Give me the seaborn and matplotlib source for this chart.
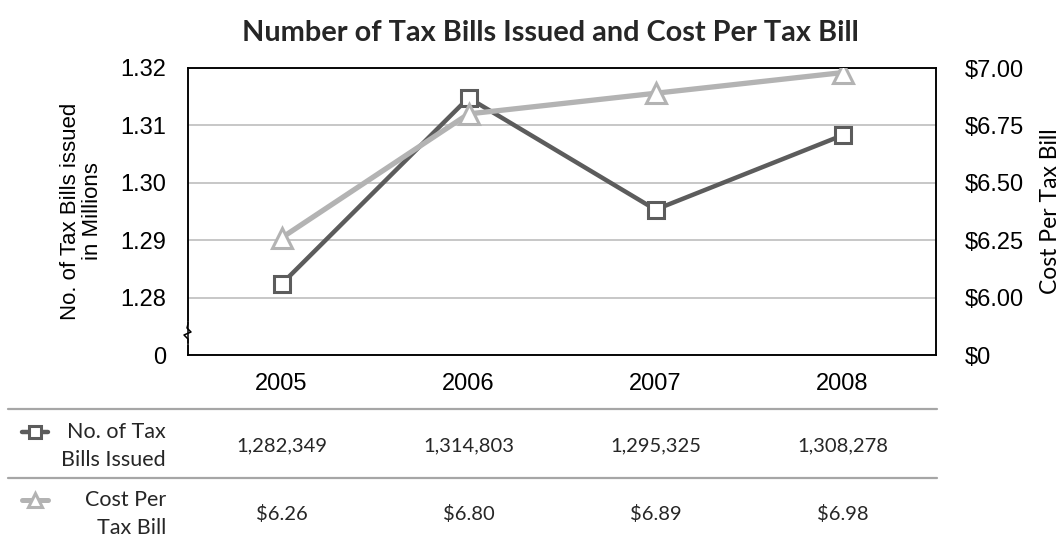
import numpy as np
import pandas as pd
import matplotlib
matplotlib.use("Agg")
import matplotlib.pyplot as plt
from matplotlib.lines import Line2D
from matplotlib.transforms import blended_transform_factory
import seaborn as sns

# ---- data -------------------------------------------------------------
years = ["2005", "2006", "2007", "2008"]
bills_issued = [1282349, 1314803, 1295325, 1308278]
cost_per_bill = [6.26, 6.80, 6.89, 6.98]
bills_ticks = [0, 1.28, 1.29, 1.30, 1.31, 1.32]
bills_ticklabels = ["0", "1.28", "1.29", "1.30", "1.31", "1.32"]
cost_ticks = [0, 6.00, 6.25, 6.50, 6.75, 7.00]
cost_ticklabels = ["$0", "$6.00", "$6.25", "$6.50", "$6.75", "$7.00"]
row_labels = ["No. of Tax\nBills Issued", "Cost Per\nTax Bill"]

DARK = "#5c5c5c"
LIGHT = "#b3b3b3"
GRID = "#bdbdbd"

sns.set_theme(style="white")
plt.rcParams["font.family"] = ["Liberation Sans", "DejaVu Sans"]
HUMANIST = ["Lato", "Liberation Sans", "DejaVu Sans"]

df = pd.DataFrame({
    "pos": np.arange(len(years)),
    "bills_m": np.array(bills_issued) / 1e6,
    "cost": cost_per_bill,
})


def broken_scale(low, step):
    """Axis with a break: 0..low squeezed into one step, then linear."""
    def fwd(v):
        v = np.asarray(v, dtype=float)
        return np.where(v >= low, 1 + (v - low) / step, v / low)

    def inv(u):
        u = np.asarray(u, dtype=float)
        return np.where(u >= 1, low + (u - 1) * step, u * low)
    return fwd, inv


W, H = 1062, 542
fig = plt.figure(figsize=(W / 100, H / 100), dpi=100)
ax = fig.add_axes([188 / W, 1 - 355 / H, 748 / W, 287 / H])
ax2 = ax.twinx()

ax.set_yscale("function", functions=broken_scale(1.28, 0.01))
ax2.set_yscale("function", functions=broken_scale(6.0, 0.25))

sns.lineplot(data=df, x="pos", y="bills_m", ax=ax, color=DARK, lw=3.2,
             marker="s", markersize=12, markerfacecolor="white",
             markeredgecolor=DARK, markeredgewidth=2.2, zorder=3)
sns.lineplot(data=df, x="pos", y="cost", ax=ax2, color=LIGHT, lw=3.8,
             marker="^", markersize=14, markerfacecolor="white",
             markeredgecolor=LIGHT, markeredgewidth=2.2, zorder=3)

ax.set_xlim(-0.5, len(years) - 0.5)
ax.set_ylim(0, 1.32)
ax2.set_ylim(0, 7.0)

ax.set_xticks(df["pos"], years)
ax.set_yticks(bills_ticks, bills_ticklabels)
ax2.set_yticks(cost_ticks, cost_ticklabels)

ax.grid(axis="y", color=GRID, lw=1.2)
ax.grid(axis="x", visible=False)
ax2.grid(False)
ax.tick_params(axis="both", length=0, labelsize=17, colors="black")
ax.tick_params(axis="y", pad=16)
ax.tick_params(axis="x", pad=13)
ax2.tick_params(axis="y", length=0, labelsize=17, colors="black", pad=21)

for a in (ax, ax2):
    for sp in a.spines.values():
        sp.set_visible(True)
        sp.set_color("black")
        sp.set_linewidth(1.1)

ax.set_xlabel("")
ax.set_ylabel("No. of Tax Bills issued\nin Millions", fontsize=16,
              labelpad=12, color="black", linespacing=1.1)
ax2.set_ylabel("Cost Per Tax Bill", fontsize=16.5, labelpad=11,
               color="black", family=HUMANIST)

# break marker on the left spine
px, py = 1 / 748, 1 / 287
ax.plot([0, 0], [12 * py, 32 * py], transform=ax.transAxes, color="white",
        lw=3, clip_on=False, zorder=5)
ax.plot([0, 0, -4 * px, 3 * px, -1 * px, 0, 0],
        [12 * py, 16 * py, 20 * py, 23 * py, 27 * py, 31 * py, 33 * py],
        transform=ax.transAxes, color="black", lw=1.1, clip_on=False,
        zorder=6)

fig.suptitle("Number of Tax Bills Issued and Cost Per Tax Bill",
             x=550 / W, y=1 - 33 / H, va="center", fontsize=20.8,
             fontweight="bold", family=HUMANIST)

# ---- data table below the chart ---------------------------------------
for yline in (409, 478):
    fig.add_artist(Line2D([8 / W, 937 / W], [1 - yline / H] * 2,
                          color="#a6a6a6", lw=1.6))

tr = blended_transform_factory(ax.transData, fig.transFigure)
row_y = [1 - 446 / H, 1 - 514 / H]
row_values = [[f"{v:,}" for v in bills_issued],
              [f"${v:.2f}" for v in cost_per_bill]]
for yy, vals in zip(row_y, row_values):
    for i, txt in enumerate(vals):
        fig.text(i, yy, txt, transform=tr, ha="center", va="center",
                 fontsize=14.5, family=HUMANIST)

for yy, lab in zip(row_y, row_labels):
    fig.text(166 / W, yy, lab, ha="right", va="center", fontsize=15.5,
             family=HUMANIST, linespacing=1.45)

key_y = [1 - 432 / H, 1 - 500 / H]
key_styles = [dict(color=DARK, marker="s", markersize=9, lw=3.2,
                   markeredgewidth=2.2, markeredgecolor=DARK),
              dict(color=LIGHT, marker="^", markersize=10, lw=3.6,
                   markeredgewidth=2.2, markeredgecolor=LIGHT)]
for yy, st in zip(key_y, key_styles):
    fig.add_artist(Line2D([22 / W, 35 / W, 48 / W], [yy] * 3,
                          markevery=[1], markerfacecolor="white", **st))

fig.savefig("out.png", dpi=100)
